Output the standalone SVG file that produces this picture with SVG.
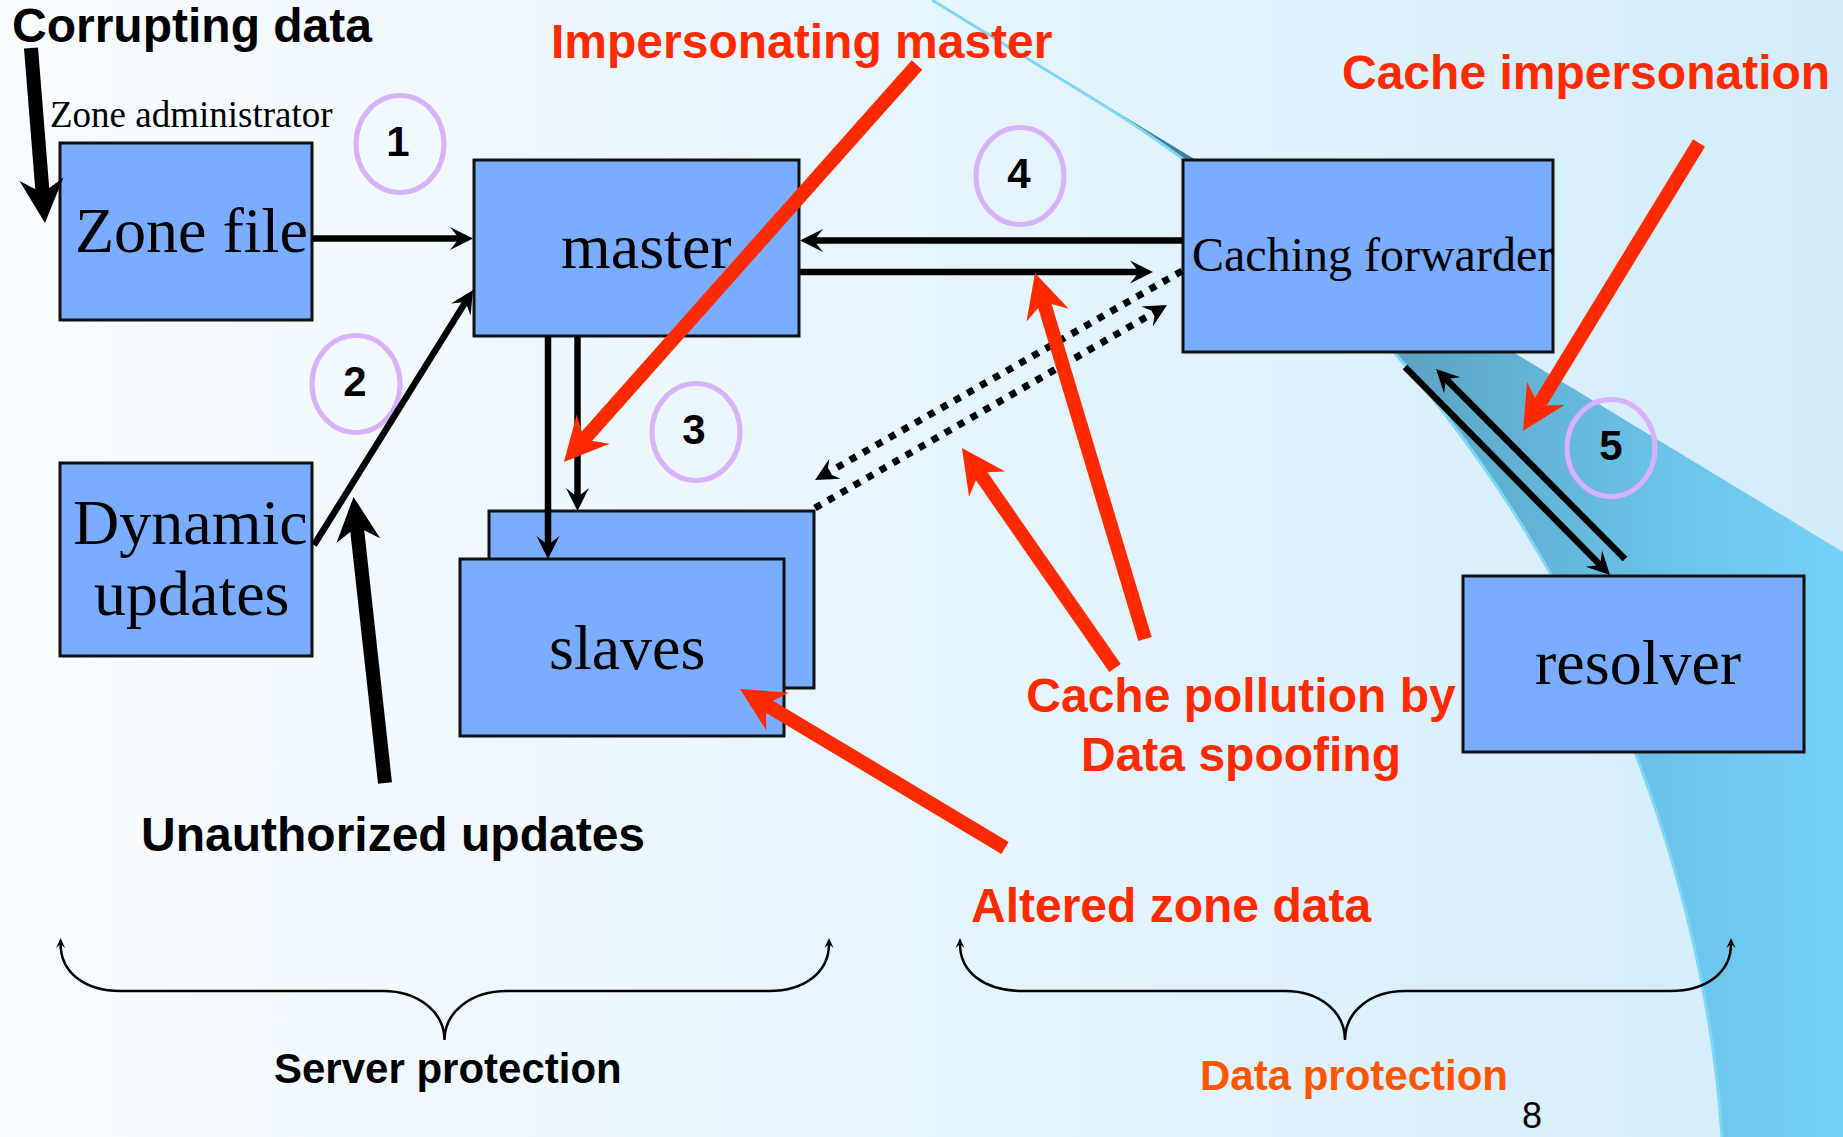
<svg xmlns="http://www.w3.org/2000/svg" width="1843" height="1137" viewBox="0 0 1843 1137">
<defs>
<linearGradient id="bg" x1="0" y1="0" x2="1843" y2="0" gradientUnits="userSpaceOnUse">
<stop offset="0" stop-color="#F9FCFF"/><stop offset="0.5" stop-color="#E7F5FD"/><stop offset="1" stop-color="#D3ECFB"/>
</linearGradient>
<linearGradient id="band" x1="1120" y1="0" x2="1843" y2="0" gradientUnits="userSpaceOnUse">
<stop offset="0" stop-color="#3F7389"/><stop offset="0.38" stop-color="#5AA2C2"/><stop offset="0.75" stop-color="#6BC3E8"/><stop offset="1" stop-color="#76D1F9"/>
</linearGradient>
<marker id="bigRed" markerUnits="userSpaceOnUse" orient="auto" overflow="visible" refX="0" refY="0" markerWidth="60" markerHeight="60">
<path d="M30,0 L-14,-22 L0,0 L-14,22 Z" fill="#FF2A00"/>
</marker>
<marker id="bigBlack" markerUnits="userSpaceOnUse" orient="auto" overflow="visible" refX="0" refY="0" markerWidth="60" markerHeight="60">
<path d="M30,0 L-14,-22 L0,0 L-14,22 Z" fill="#000"/>
</marker>
<marker id="head" markerUnits="userSpaceOnUse" orient="auto" overflow="visible" refX="0" refY="0" markerWidth="30" markerHeight="30">
<path d="M14,0 L-9,-11.5 L0,0 L-9,11.5 Z" fill="#000"/>
</marker>
<marker id="braceHead" markerUnits="userSpaceOnUse" orient="auto-start-reverse" overflow="visible" refX="0" refY="0" markerWidth="12" markerHeight="12">
<path d="M6,0 L-4,-4.5 L0,0 L-4,4.5 Z" fill="#000"/>
</marker>
<style>
.box{fill:#7AACFF;stroke:#111;stroke-width:3}
.serif{font-family:"Liberation Serif","Times New Roman",serif;font-size:64px;fill:#000}
.bold{font-family:"Liberation Sans",Arial,sans-serif;font-weight:bold;font-size:48px}
.red{fill:#FF2A00}
.blk{fill:#000}
.num{font-family:"Liberation Sans",Arial,sans-serif;font-weight:bold;font-size:42px;text-anchor:middle;fill:#000}
.ring{fill:none;stroke:#D9B1FB;stroke-width:5}
.conn{fill:none;stroke:#000;stroke-width:6.5;marker-end:url(#head)}
.dot{fill:none;stroke:#000;stroke-width:7;stroke-dasharray:7 8;marker-end:url(#head)}
.atkR{fill:none;stroke:#FF2A00;stroke-width:14;marker-end:url(#bigRed)}
.atkB{fill:none;stroke:#000;stroke-width:14;marker-end:url(#bigBlack)}
.brace{fill:none;stroke:#000;stroke-width:2.5;marker-start:url(#braceHead);marker-end:url(#braceHead)}
</style>
</defs>

<rect x="0" y="0" width="1843" height="1137" fill="url(#bg)"/>
<path d="M932,0 L1843,552 L1843,1137 L1722,1137 C1700,800 1520,363 1100,103 L932,0 Z" fill="url(#band)"/>
<path d="M932,0 L1100,103 C1520,363 1700,800 1722,1137" fill="none" stroke="#7FD6F7" stroke-width="3"/>

<g id="zone-file">
<rect class="box" x="60" y="143" width="252" height="177"/>
<text class="serif" x="75" y="252">Zone file</text>
</g>
<g id="zone-administrator">
<text x="50" y="127" font-family="Liberation Serif, Times New Roman, serif" font-size="37" fill="#000">Zone administrator</text>
</g>
<g id="dynamic-updates">
<rect class="box" x="60" y="463" width="252" height="193"/>
<text class="serif" x="73" y="544">Dynamic</text>
<text class="serif" x="94" y="615">updates</text>
</g>
<g id="master">
<rect class="box" x="474" y="160" width="325" height="176"/>
<text class="serif" x="561" y="268">master</text>
</g>
<g id="slaves">
<rect class="box" x="489" y="511" width="325" height="177"/>
<rect class="box" x="460" y="559" width="324" height="177"/>
<text class="serif" x="549" y="669" font-size="63">slaves</text>
</g>
<g id="caching-forwarder">
<rect class="box" x="1183" y="160" width="370" height="192"/>
<text class="serif" x="1192" y="271" style="font-size:48px">Caching forwarder</text>
</g>
<g id="resolver">
<rect class="box" x="1463" y="576" width="341" height="176"/>
<text class="serif" x="1535" y="684">resolver</text>
</g>

<g id="step-1"><ellipse class="ring" cx="400" cy="144" rx="44" ry="48.5"/><text class="num" x="398" y="156">1</text></g>
<g id="step-2"><ellipse class="ring" cx="356" cy="384" rx="44" ry="48.5"/><text class="num" x="355" y="396">2</text></g>
<g id="step-3"><ellipse class="ring" cx="696" cy="432" rx="44" ry="48.5"/><text class="num" x="694" y="444">3</text></g>
<g id="step-4"><ellipse class="ring" cx="1020" cy="176" rx="44" ry="48.5"/><text class="num" x="1019" y="188">4</text></g>
<g id="step-5"><ellipse class="ring" cx="1611" cy="448" rx="44" ry="48.5"/><text class="num" x="1611" y="460">5</text></g>

<g id="connectors">
<line class="conn" x1="312" y1="238.5" x2="459" y2="238.5"/>
<line class="conn" x1="314" y1="545" x2="465.6" y2="301.9"/>
<line class="conn" x1="548" y1="336" x2="548" y2="545"/>
<line class="conn" x1="577.5" y1="336" x2="577.5" y2="497"/>
<line class="conn" x1="1183" y1="240.5" x2="814" y2="240.5"/>
<line class="conn" x1="800" y1="272" x2="1139" y2="272"/>
<line class="dot" x1="1182" y1="271" x2="827.2" y2="473.1"/>
<line class="dot" x1="815" y1="508" x2="1154.9" y2="312"/>
<line class="conn" x1="1405" y1="367" x2="1600.2" y2="565"/>
<line class="conn" x1="1625" y1="559" x2="1445.9" y2="378.9"/>
</g>

<g id="attack-arrows">
<line class="atkB" x1="31" y1="48" x2="42.6" y2="193.1"/>
<line class="atkB" x1="385" y1="783" x2="356.8" y2="526.8"/>
<line class="atkR" x1="917" y1="65" x2="583.9" y2="439.6"/>
<line class="atkR" x1="1699" y1="143" x2="1538.6" y2="405.4"/>
<line class="atkR" x1="1145" y1="639" x2="1043.6" y2="301.7"/>
<line class="atkR" x1="1115" y1="668" x2="979.1" y2="472.6"/>
<line class="atkR" x1="1005" y1="848" x2="765.7" y2="704.4"/>
</g>

<g id="braces">
<path class="brace" d="M60.6,944 C60.6,972 84,991 121,991 L383,991 C418,991 444.5,1012 444.5,1040 C444.5,1012 471,991 507,991 L768.5,991 C805,991 829,972 829,944"/>
<path class="brace" d="M960,944 C960,972 984,991 1023,991 L1285,991 C1320,991 1345,1012 1345,1040 C1345,1012 1370,991 1405,991 L1670,991 C1707,991 1731,972 1731,944"/>
</g>

<g id="labels">
<text class="bold blk" x="12" y="42">Corrupting data</text>
<text class="bold red" x="551" y="58">Impersonating master</text>
<text class="bold red" x="1342" y="89">Cache impersonation</text>
<text class="bold blk" x="141" y="851">Unauthorized updates</text>
<text class="bold red" x="1241" y="712" text-anchor="middle">Cache pollution by</text>
<text class="bold red" x="1241" y="771" text-anchor="middle">Data spoofing</text>
<text class="bold red" x="971" y="922">Altered zone data</text>
<text class="bold blk" x="274" y="1083" style="font-size:42px">Server protection</text>
<text class="bold" x="1200" y="1090" style="font-size:42px" fill="#FF5500">Data protection</text>
<text x="1522" y="1128" font-family="Liberation Sans, Arial, sans-serif" font-size="36" fill="#000">8</text>
</g>
</svg>
